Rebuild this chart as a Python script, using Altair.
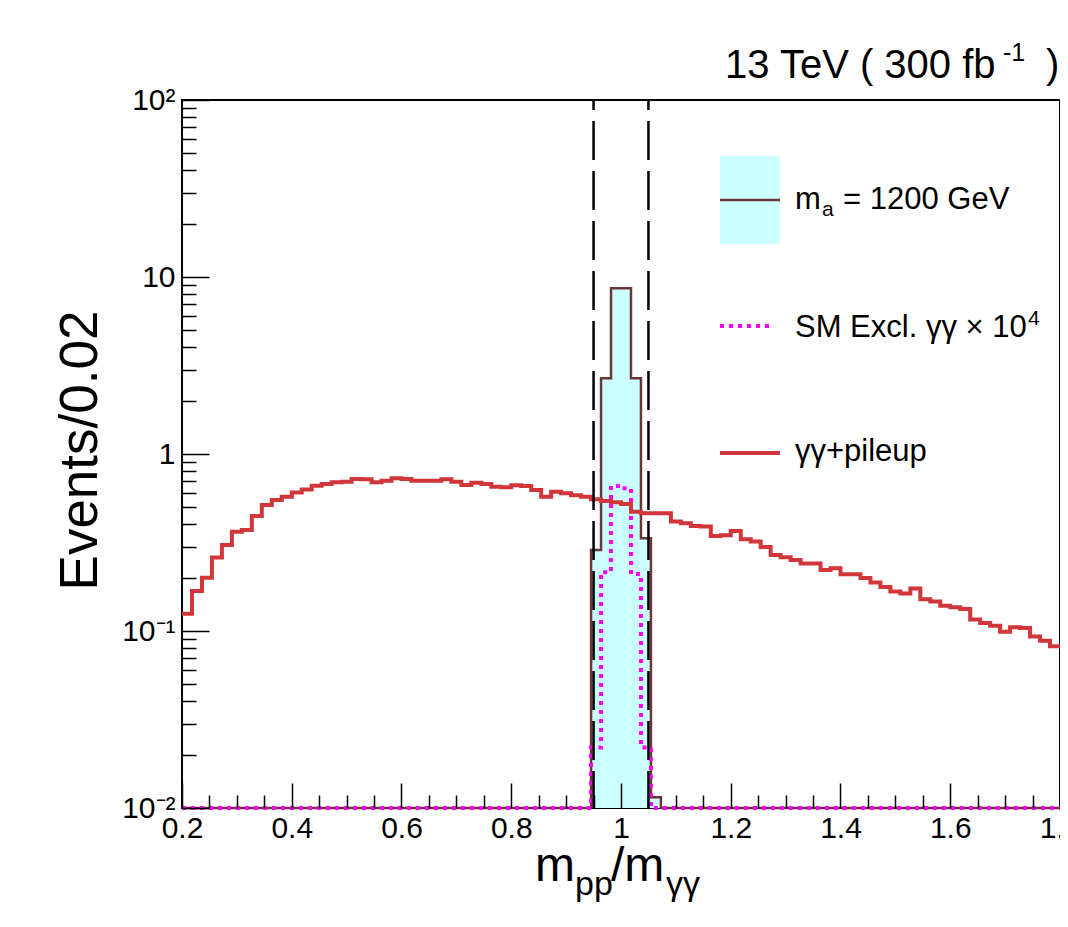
import altair as alt
import pandas as pd

# ---------------- data ----------------
N_BINS = 88
X_MIN, X_MAX = 0.2, 1.8
Y_MIN, Y_MAX = 0.01, 100

# gamma-gamma + pileup background, one value per bin
BKG = [0.125, 0.168, 0.200, 0.260, 0.306, 0.364, 0.372, 0.446, 0.515, 0.550,
       0.574, 0.607, 0.631, 0.662, 0.677, 0.692, 0.698, 0.722, 0.719, 0.692,
       0.707, 0.729, 0.722, 0.707, 0.707, 0.707, 0.719, 0.698, 0.668, 0.689,
       0.677, 0.654, 0.648, 0.665, 0.659, 0.626, 0.574, 0.612, 0.600, 0.584,
       0.574, 0.555, 0.543, 0.533, 0.522, 0.472, 0.462, 0.462, 0.462, 0.415,
       0.406, 0.392, 0.389, 0.344, 0.348, 0.367, 0.330, 0.320, 0.298, 0.269,
       0.261, 0.252, 0.241, 0.241, 0.221, 0.226, 0.209, 0.209, 0.199, 0.188,
       0.177, 0.167, 0.163, 0.174, 0.151, 0.147, 0.139, 0.136, 0.133, 0.116,
       0.111, 0.107, 0.099, 0.105, 0.104, 0.093, 0.088, 0.082]

# signal m_a = 1200 GeV (non-empty bins only)
SIGNAL_BINS = [41, 42, 43, 44, 45, 46, 47]
SIGNAL_VALS = [0.287, 2.68, 8.63, 8.63, 2.68, 0.334, 0.0115]

# SM exclusive gamma-gamma x 1e4 (non-empty bins only)
SM_BINS = [41, 42, 43, 44, 45, 46]
SM_VALS = [0.022, 0.215, 0.66, 0.64, 0.21, 0.022]

CUTS = [0.95, 1.05]

X_TICKS = [0.2, 0.4, 0.6, 0.8, 1.0, 1.2, 1.4, 1.6, 1.8]
X_MINOR = [0.25, 0.3, 0.35, 0.45, 0.5, 0.55, 0.65, 0.7, 0.75, 0.85, 0.9, 0.95,
           1.05, 1.1, 1.15, 1.25, 1.3, 1.35, 1.45, 1.5, 1.55, 1.65, 1.7, 1.75]
Y_DECADES = [0.01, 0.1, 1, 10, 100]
Y_MINOR = [m * 10.0 ** e for e in (-2, -1, 0, 1) for m in range(2, 10)]

LEG_SIGNAL = ["m", "a", "= 1200 GeV"]
LEG_SM = ["SM Excl. γγ × 10", "4"]
LEG_BKG = "γγ+pileup"
TITLE = ["13 TeV ( 300 fb", "-1", ")"]
XLABEL = ["m", "pp", "/m", "γγ"]
YLABEL = "Events/0.02"

# ---------------- helpers ----------------
FONT = "Liberation Sans, Arial, Helvetica, sans-serif"
W, H = 878, 708
RED = "#d1363a"
BROWN = "#6a3535"
CYAN = "#ccffff"
MAGENTA = "#ff00ff"

edges = [X_MIN + (X_MAX - X_MIN) * k / N_BINS for k in range(N_BINS + 1)]


def hist_frame(values):
    v = [max(val, Y_MIN) for val in values]
    return pd.DataFrame({"x": edges, "v": v + [v[-1]],
                         "base": [Y_MIN] * (N_BINS + 1)})


sig_full = [0.0] * N_BINS
for b, val in zip(SIGNAL_BINS, SIGNAL_VALS):
    sig_full[b] = val
sm_full = [0.0] * N_BINS
for b, val in zip(SM_BINS, SM_VALS):
    sm_full[b] = val

sig_df = hist_frame(sig_full)
sm_df = hist_frame(sm_full)
bkg_df = hist_frame(BKG)
one = pd.DataFrame({"k": [0]})

xs = alt.Scale(domain=[X_MIN, X_MAX], nice=False, zero=False)
ys = alt.Scale(type="log", domain=[Y_MIN, Y_MAX], nice=False)

x_label_axis = alt.Axis(orient="bottom", values=X_TICKS, format="~g", ticks=False,
                        domain=False, grid=False, title=None, labelFontSize=30,
                        labelFont=FONT, labelColor="black", labelPadding=5,
                        labelFlush=False, labelOverlap=False, labelBound=False)
y_label_axis = alt.Axis(orient="left", values=Y_DECADES, ticks=False, domain=False,
                        grid=False, labelFontSize=30, labelFont=FONT, labelColor="black",
                        labelPadding=7, labelFlush=False, labelOverlap=False,
                        labelExpr="datum.value > 50 ? '10²' : datum.value > 5 ? '10' : "
                                  "datum.value > 0.5 ? '1' : datum.value > 0.05 ? '10⁻¹' : '10⁻²'",
                        title=YLABEL, titleFont=FONT, titleFontSize=53,
                        titleFontWeight="normal", titleColor="black", titleAngle=270,
                        titleX=-86, titleY=H / 2 - 4, titleAlign="center",
                        titleBaseline="alphabetic")


def tick_axis_x(vals, size):
    return alt.Axis(orient="top", offset=-H, values=vals, labels=False, tickSize=size,
                    tickWidth=1.5, tickColor="black", domain=False, grid=False,
                    title=None, zindex=1)


def tick_axis_y(vals, size):
    return alt.Axis(orient="right", offset=-W, values=vals, labels=False, tickSize=size,
                    tickWidth=1.5, tickColor="black", domain=False, grid=False,
                    title=None, zindex=1)


sig_area = alt.Chart(sig_df).mark_area(interpolate="step-after", color=CYAN, opacity=1).encode(
    x=alt.X("x:Q", scale=xs, axis=x_label_axis),
    y=alt.Y("v:Q", scale=ys, axis=y_label_axis),
    y2="base:Q",
)
sig_line = alt.Chart(sig_df).mark_line(interpolate="step-after", color=BROWN, strokeWidth=2.5).encode(
    x=alt.X("x:Q", scale=xs, axis=tick_axis_x(X_TICKS, 25)),
    y=alt.Y("v:Q", scale=ys, axis=tick_axis_y(Y_DECADES, 27)),
)
sm_line = alt.Chart(sm_df).mark_line(interpolate="step-after", color=MAGENTA, strokeWidth=4,
                                     strokeDash=[4, 5]).encode(
    x=alt.X("x:Q", scale=xs, axis=tick_axis_x(X_MINOR, 13)),
    y=alt.Y("v:Q", scale=ys, axis=tick_axis_y(Y_MINOR, 14)),
)
bkg_line = alt.Chart(bkg_df).mark_line(interpolate="step-after", color=RED, strokeWidth=4).encode(
    x=alt.X("x:Q", scale=xs, axis=None),
    y=alt.Y("v:Q", scale=ys, axis=None),
)
cuts = alt.Chart(pd.DataFrame({"x": CUTS})).mark_rule(
    color="black", strokeWidth=2.5, strokeDash=[39, 11], strokeDashOffset=29).encode(
    x=alt.X("x:Q", scale=xs, axis=None),
    y=alt.value(0), y2=alt.value(H),
)

# ---- legend ----
leg_box = alt.Chart(one).mark_rect(color=CYAN).encode(
    x=alt.value(538), x2=alt.value(598), y=alt.value(56), y2=alt.value(144))
leg_sig = alt.Chart(one).mark_rule(color=BROWN, strokeWidth=2.5).encode(
    x=alt.value(538), x2=alt.value(598), y=alt.value(100))
leg_sm = alt.Chart(one).mark_rule(color=MAGENTA, strokeWidth=4, strokeDash=[4, 5]).encode(
    x=alt.value(538), x2=alt.value(592), y=alt.value(226))
leg_bkg = alt.Chart(one).mark_rule(color=RED, strokeWidth=4).encode(
    x=alt.value(538), x2=alt.value(598), y=alt.value(353))


def txt(s, x, y, size, align="left"):
    return alt.Chart(one).mark_text(text=s, font=FONT, fontSize=size, color="black",
                                    align=align, baseline="alphabetic").encode(
        x=alt.value(x), y=alt.value(y))


texts = [
    txt(LEG_SIGNAL[0], 613, 109, 31),
    txt(LEG_SIGNAL[1], 640, 116, 21),
    txt(LEG_SIGNAL[2], 661, 109, 31),
    txt(LEG_SM[0], 613, 237, 31),
    txt(LEG_SM[1], 846, 225, 21),
    txt(LEG_BKG, 613, 361, 31),
    txt(TITLE[0], 543, -22, 40),
    txt(TITLE[1], 821, -39, 25),
    txt(TITLE[2], 864, -22, 40),
    txt(XLABEL[0], 353, 781, 48),
    txt(XLABEL[1], 393, 795, 34),
    txt(XLABEL[2], 429, 781, 48),
    txt(XLABEL[3], 484, 795, 34),
]

chart = alt.layer(sig_area, sig_line, sm_line, bkg_line, cuts,
                  leg_box, leg_sig, leg_sm, leg_bkg, *texts).resolve_axis(
    x="independent", y="independent"
).properties(
    width=W, height=H, autosize="none",
    padding={"left": 174, "top": 92, "right": 0, "bottom": 104},
    background="white",
).configure_view(stroke="black", strokeWidth=2)

chart.save("out.html", embed_options={"renderer": "svg", "actions": False})
